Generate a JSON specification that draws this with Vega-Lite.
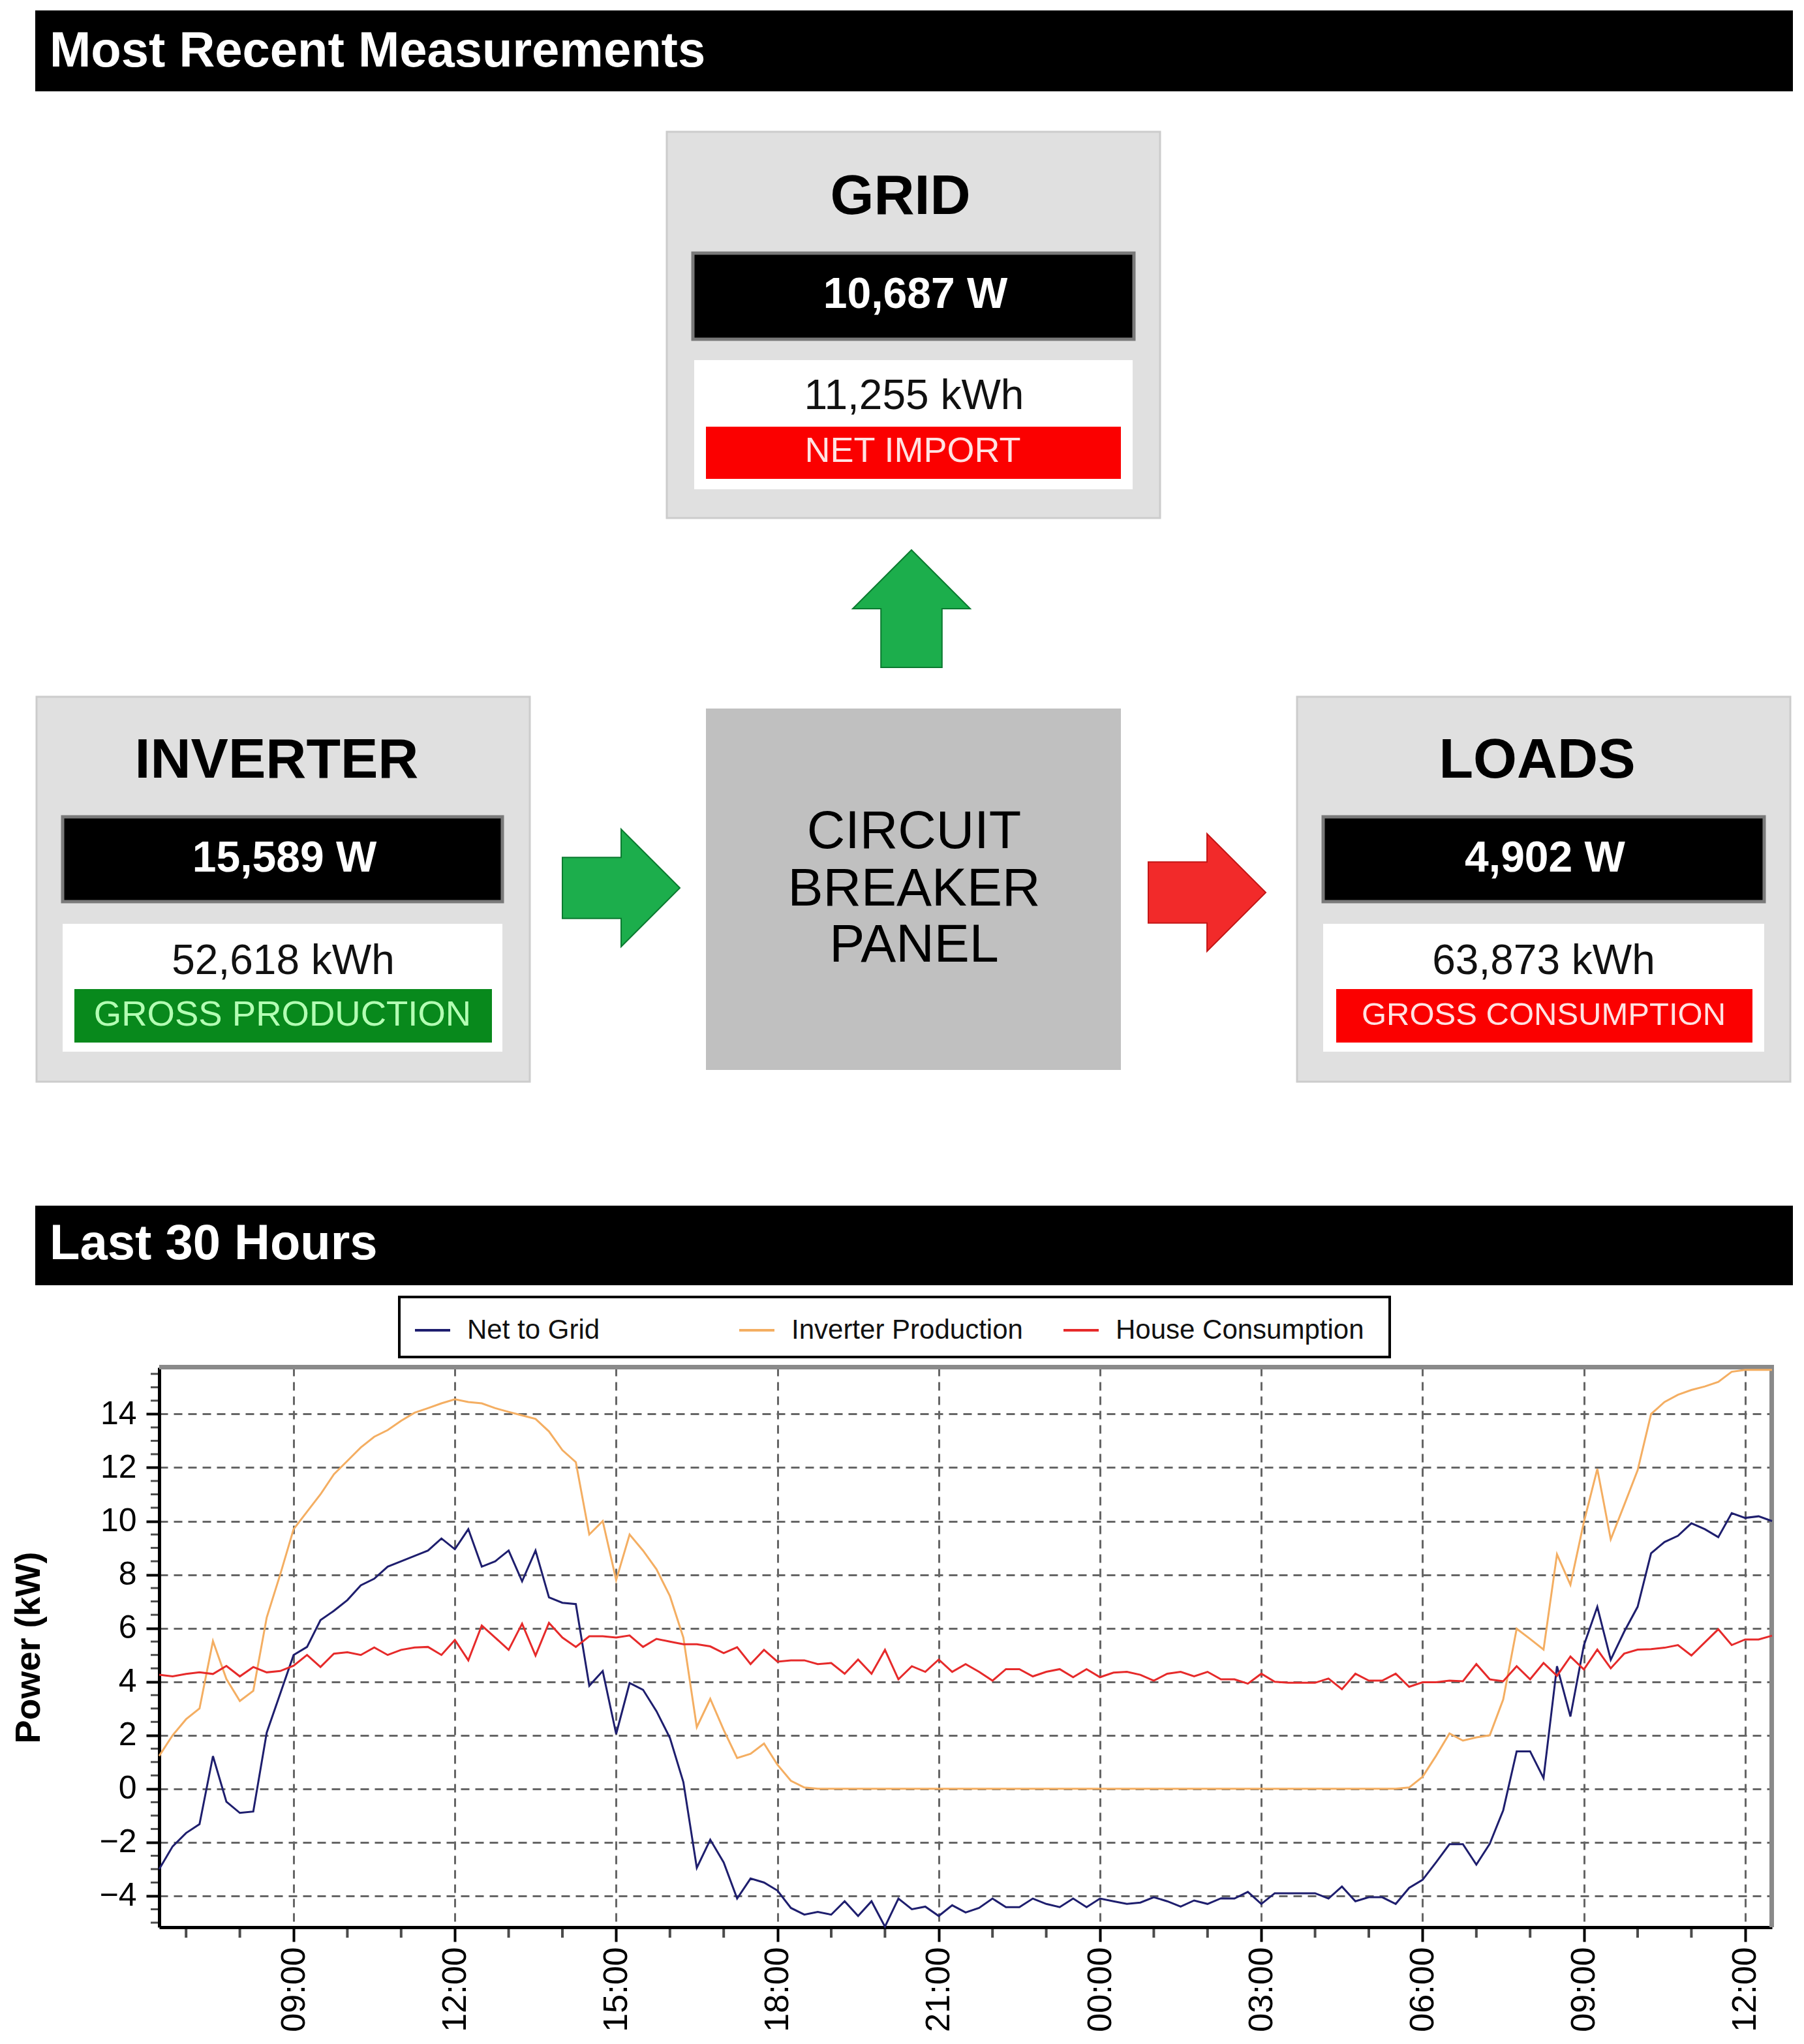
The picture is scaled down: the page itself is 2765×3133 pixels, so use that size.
{
  "$schema": "https://vega.github.io/schema/vega-lite/v6.json",
  "width": 2472,
  "height": 858,
  "padding": 0,
  "background": "white",
  "config": {"view": {"stroke": null}},
  "datasets": {
    "page": [{"x": 0, "x2": 2765, "y": 0, "y2": 3133}],
    "headerBars": [{"x": 54, "x2": 2748, "y": 16, "y2": 140}, {"x": 54, "x2": 2748, "y": 1848, "y2": 1970}],
    "headerText": [{"label": "Most Recent Measurements", "x": 76, "y": 102}, {"label": "Last 30 Hours", "x": 76, "y": 1930}],
    "panels": [
      {"name": "GRID", "x": 1022, "x2": 1778, "y": 202, "y2": 794},
      {"name": "INVERTER", "x": 56, "x2": 812, "y": 1068, "y2": 1658},
      {"name": "LOADS", "x": 1988, "x2": 2744, "y": 1068, "y2": 1658}
    ],
    "panelTitles": [
      {"label": "GRID", "x": 1380, "y": 302},
      {"label": "INVERTER", "x": 424, "y": 1166},
      {"label": "LOADS", "x": 2356, "y": 1166}
    ],
    "powerBars": [
      {"name": "GRID", "x": 1062, "x2": 1738, "y": 388, "y2": 520},
      {"name": "INVERTER", "x": 96, "x2": 770, "y": 1252, "y2": 1382},
      {"name": "LOADS", "x": 2028, "x2": 2704, "y": 1252, "y2": 1382}
    ],
    "powerText": [
      {"label": "10,687 W", "x": 1403, "y": 452},
      {"label": "15,589 W", "x": 436, "y": 1316},
      {"label": "4,902 W", "x": 2368, "y": 1316}
    ],
    "energyAreas": [
      {"name": "GRID", "x": 1064, "x2": 1736, "y": 552, "y2": 750},
      {"name": "INVERTER", "x": 96, "x2": 770, "y": 1416, "y2": 1612},
      {"name": "LOADS", "x": 2028, "x2": 2704, "y": 1416, "y2": 1612}
    ],
    "energyText": [
      {"label": "11,255 kWh", "x": 1401, "y": 608},
      {"label": "52,618 kWh", "x": 434, "y": 1474},
      {"label": "63,873 kWh", "x": 2366, "y": 1474}
    ],
    "statusBars": [
      {"kind": "import", "x": 1082, "x2": 1718, "y": 654, "y2": 734},
      {"kind": "production", "x": 114, "x2": 754, "y": 1516, "y2": 1598},
      {"kind": "consumption", "x": 2048, "x2": 2686, "y": 1516, "y2": 1598}
    ],
    "statusText": [
      {"kind": "import", "label": "NET IMPORT", "x": 1399, "y": 692},
      {"kind": "production", "label": "GROSS PRODUCTION", "x": 433, "y": 1556},
      {"kind": "consumption", "label": "GROSS CONSUMPTION", "x": 2366, "y": 1556}
    ],
    "breaker": [{"x": 1082, "x2": 1718, "y": 1086, "y2": 1640}],
    "breakerText": [
      {"label": "CIRCUIT", "x": 1401, "y": 1276},
      {"label": "BREAKER", "x": 1401, "y": 1364},
      {"label": "PANEL", "x": 1401, "y": 1450}
    ],
    "arrows": [
      {"flow": "grid", "x": 1397, "y": 933},
      {"flow": "inverter", "x": 952, "y": 1361},
      {"flow": "loads", "x": 1850, "y": 1368}
    ],
    "legendFrame": [{"x": 612, "x2": 2130, "y": 1988, "y2": 2080}],
    "plotBorder": [
      {"x": 244, "x2": 2719, "y": 2092, "y2": 2099},
      {"x": 2712, "x2": 2719, "y": 2092, "y2": 2954}
    ],
    "minorHours": [{"hour": 7}, {"hour": 8}, {"hour": 10}, {"hour": 11}, {"hour": 13}, {"hour": 14}, {"hour": 16}, {"hour": 17}, {"hour": 19}, {"hour": 20}, {"hour": 22}, {"hour": 23}, {"hour": 25}, {"hour": 26}, {"hour": 28}, {"hour": 29}, {"hour": 31}, {"hour": 32}, {"hour": 34}, {"hour": 35}],
    "minorKW": [{"kW": -5}, {"kW": -4.5}, {"kW": -3.5}, {"kW": -3}, {"kW": -2.5}, {"kW": -1.5}, {"kW": -1}, {"kW": -0.5}, {"kW": 0.5}, {"kW": 1}, {"kW": 1.5}, {"kW": 2.5}, {"kW": 3}, {"kW": 3.5}, {"kW": 4.5}, {"kW": 5}, {"kW": 5.5}, {"kW": 6.5}, {"kW": 7}, {"kW": 7.5}, {"kW": 8.5}, {"kW": 9}, {"kW": 9.5}, {"kW": 10.5}, {"kW": 11}, {"kW": 11.5}, {"kW": 12.5}, {"kW": 13}, {"kW": 13.5}, {"kW": 14.5}, {"kW": 15}, {"kW": 15.5}],
    "power": [
      {"hour": 6.5, "Net to Grid": -3.0, "Inverter Production": 1.23, "House Consumption": 4.26},
      {"hour": 6.75, "Net to Grid": -2.15, "Inverter Production": 2.0, "House Consumption": 4.2},
      {"hour": 7.0, "Net to Grid": -1.65, "Inverter Production": 2.6, "House Consumption": 4.29},
      {"hour": 7.25, "Net to Grid": -1.32, "Inverter Production": 3.0, "House Consumption": 4.35},
      {"hour": 7.5, "Net to Grid": 1.22, "Inverter Production": 5.52, "House Consumption": 4.29},
      {"hour": 7.75, "Net to Grid": -0.48, "Inverter Production": 4.1, "House Consumption": 4.59},
      {"hour": 8.0, "Net to Grid": -0.9, "Inverter Production": 3.28, "House Consumption": 4.2},
      {"hour": 8.25, "Net to Grid": -0.85, "Inverter Production": 3.66, "House Consumption": 4.55},
      {"hour": 8.5, "Net to Grid": 2.1, "Inverter Production": 6.4, "House Consumption": 4.35},
      {"hour": 8.75, "Net to Grid": 3.55, "Inverter Production": 8.0, "House Consumption": 4.4},
      {"hour": 9.0, "Net to Grid": 5.0, "Inverter Production": 9.7, "House Consumption": 4.6},
      {"hour": 9.25, "Net to Grid": 5.3, "Inverter Production": 10.35, "House Consumption": 5.0},
      {"hour": 9.5, "Net to Grid": 6.3, "Inverter Production": 11.0, "House Consumption": 4.55},
      {"hour": 9.75, "Net to Grid": 6.65, "Inverter Production": 11.75, "House Consumption": 5.05},
      {"hour": 10.0, "Net to Grid": 7.05, "Inverter Production": 12.25, "House Consumption": 5.1},
      {"hour": 10.25, "Net to Grid": 7.6, "Inverter Production": 12.75, "House Consumption": 5.0},
      {"hour": 10.5, "Net to Grid": 7.85, "Inverter Production": 13.15, "House Consumption": 5.28},
      {"hour": 10.75, "Net to Grid": 8.3, "Inverter Production": 13.4, "House Consumption": 5.0},
      {"hour": 11.0, "Net to Grid": 8.5, "Inverter Production": 13.75, "House Consumption": 5.19},
      {"hour": 11.25, "Net to Grid": 8.7, "Inverter Production": 14.05, "House Consumption": 5.28},
      {"hour": 11.5, "Net to Grid": 8.9, "Inverter Production": 14.22, "House Consumption": 5.3},
      {"hour": 11.75, "Net to Grid": 9.35, "Inverter Production": 14.4, "House Consumption": 5.0},
      {"hour": 12.0, "Net to Grid": 8.95, "Inverter Production": 14.55, "House Consumption": 5.56},
      {"hour": 12.25, "Net to Grid": 9.7, "Inverter Production": 14.45, "House Consumption": 4.8},
      {"hour": 12.5, "Net to Grid": 8.3, "Inverter Production": 14.4, "House Consumption": 6.1},
      {"hour": 12.75, "Net to Grid": 8.5, "Inverter Production": 14.22, "House Consumption": 5.65},
      {"hour": 13.0, "Net to Grid": 8.9, "Inverter Production": 14.08, "House Consumption": 5.19},
      {"hour": 13.25, "Net to Grid": 7.75, "Inverter Production": 13.95, "House Consumption": 6.17},
      {"hour": 13.5, "Net to Grid": 8.9, "Inverter Production": 13.82, "House Consumption": 4.98},
      {"hour": 13.75, "Net to Grid": 7.15, "Inverter Production": 13.35, "House Consumption": 6.2},
      {"hour": 14.0, "Net to Grid": 6.95, "Inverter Production": 12.65, "House Consumption": 5.65},
      {"hour": 14.25, "Net to Grid": 6.9, "Inverter Production": 12.2, "House Consumption": 5.3},
      {"hour": 14.5, "Net to Grid": 3.85, "Inverter Production": 9.5, "House Consumption": 5.7},
      {"hour": 14.75, "Net to Grid": 4.4, "Inverter Production": 10.0, "House Consumption": 5.7},
      {"hour": 15.0, "Net to Grid": 2.05, "Inverter Production": 7.8, "House Consumption": 5.65},
      {"hour": 15.25, "Net to Grid": 3.95, "Inverter Production": 9.5, "House Consumption": 5.73},
      {"hour": 15.5, "Net to Grid": 3.7, "Inverter Production": 8.9, "House Consumption": 5.3},
      {"hour": 15.75, "Net to Grid": 2.9, "Inverter Production": 8.2, "House Consumption": 5.6},
      {"hour": 16.0, "Net to Grid": 1.9, "Inverter Production": 7.2, "House Consumption": 5.5},
      {"hour": 16.25, "Net to Grid": 0.25, "Inverter Production": 5.65, "House Consumption": 5.4},
      {"hour": 16.5, "Net to Grid": -2.95, "Inverter Production": 2.3, "House Consumption": 5.4},
      {"hour": 16.75, "Net to Grid": -1.9, "Inverter Production": 3.36, "House Consumption": 5.32},
      {"hour": 17.0, "Net to Grid": -2.75, "Inverter Production": 2.2, "House Consumption": 5.07},
      {"hour": 17.25, "Net to Grid": -4.1, "Inverter Production": 1.15, "House Consumption": 5.29},
      {"hour": 17.5, "Net to Grid": -3.35, "Inverter Production": 1.31, "House Consumption": 4.66},
      {"hour": 17.75, "Net to Grid": -3.5, "Inverter Production": 1.69, "House Consumption": 5.19},
      {"hour": 18.0, "Net to Grid": -3.8, "Inverter Production": 0.9, "House Consumption": 4.75},
      {"hour": 18.25, "Net to Grid": -4.45, "Inverter Production": 0.3, "House Consumption": 4.8},
      {"hour": 18.5, "Net to Grid": -4.7, "Inverter Production": 0.05, "House Consumption": 4.8},
      {"hour": 18.75, "Net to Grid": -4.6, "Inverter Production": 0, "House Consumption": 4.66},
      {"hour": 19.0, "Net to Grid": -4.7, "Inverter Production": 0, "House Consumption": 4.7},
      {"hour": 19.25, "Net to Grid": -4.2, "Inverter Production": 0, "House Consumption": 4.3},
      {"hour": 19.5, "Net to Grid": -4.75, "Inverter Production": 0, "House Consumption": 4.83},
      {"hour": 19.75, "Net to Grid": -4.2, "Inverter Production": 0, "House Consumption": 4.3},
      {"hour": 20.0, "Net to Grid": -5.15, "Inverter Production": 0, "House Consumption": 5.19},
      {"hour": 20.25, "Net to Grid": -4.1, "Inverter Production": 0, "House Consumption": 4.09},
      {"hour": 20.5, "Net to Grid": -4.5, "Inverter Production": 0, "House Consumption": 4.58},
      {"hour": 20.75, "Net to Grid": -4.4, "Inverter Production": 0, "House Consumption": 4.37},
      {"hour": 21.0, "Net to Grid": -4.75, "Inverter Production": 0, "House Consumption": 4.83},
      {"hour": 21.25, "Net to Grid": -4.35, "Inverter Production": 0, "House Consumption": 4.37},
      {"hour": 21.5, "Net to Grid": -4.62, "Inverter Production": 0, "House Consumption": 4.66},
      {"hour": 21.75, "Net to Grid": -4.45, "Inverter Production": 0, "House Consumption": 4.37},
      {"hour": 22.0, "Net to Grid": -4.1, "Inverter Production": 0, "House Consumption": 4.04},
      {"hour": 22.25, "Net to Grid": -4.42, "Inverter Production": 0, "House Consumption": 4.47},
      {"hour": 22.5, "Net to Grid": -4.42, "Inverter Production": 0, "House Consumption": 4.47},
      {"hour": 22.75, "Net to Grid": -4.1, "Inverter Production": 0, "House Consumption": 4.2},
      {"hour": 23.0, "Net to Grid": -4.3, "Inverter Production": 0, "House Consumption": 4.37},
      {"hour": 23.25, "Net to Grid": -4.42, "Inverter Production": 0, "House Consumption": 4.47},
      {"hour": 23.5, "Net to Grid": -4.1, "Inverter Production": 0, "House Consumption": 4.17},
      {"hour": 23.75, "Net to Grid": -4.42, "Inverter Production": 0, "House Consumption": 4.47},
      {"hour": 24.0, "Net to Grid": -4.1, "Inverter Production": 0, "House Consumption": 4.17},
      {"hour": 24.25, "Net to Grid": -4.2, "Inverter Production": 0, "House Consumption": 4.34},
      {"hour": 24.5, "Net to Grid": -4.3, "Inverter Production": 0, "House Consumption": 4.37},
      {"hour": 24.75, "Net to Grid": -4.25, "Inverter Production": 0, "House Consumption": 4.26},
      {"hour": 25.0, "Net to Grid": -4.05, "Inverter Production": 0, "House Consumption": 4.04},
      {"hour": 25.25, "Net to Grid": -4.2, "Inverter Production": 0, "House Consumption": 4.3},
      {"hour": 25.5, "Net to Grid": -4.4, "Inverter Production": 0, "House Consumption": 4.37},
      {"hour": 25.75, "Net to Grid": -4.17, "Inverter Production": 0, "House Consumption": 4.2},
      {"hour": 26.0, "Net to Grid": -4.3, "Inverter Production": 0, "House Consumption": 4.37},
      {"hour": 26.25, "Net to Grid": -4.09, "Inverter Production": 0, "House Consumption": 4.09},
      {"hour": 26.5, "Net to Grid": -4.1, "Inverter Production": 0, "House Consumption": 4.09},
      {"hour": 26.75, "Net to Grid": -3.85, "Inverter Production": 0, "House Consumption": 3.93},
      {"hour": 27.0, "Net to Grid": -4.3, "Inverter Production": 0, "House Consumption": 4.3},
      {"hour": 27.25, "Net to Grid": -3.9, "Inverter Production": 0, "House Consumption": 4.0},
      {"hour": 27.5, "Net to Grid": -3.9, "Inverter Production": 0, "House Consumption": 3.96},
      {"hour": 27.75, "Net to Grid": -3.9, "Inverter Production": 0, "House Consumption": 3.96},
      {"hour": 28.0, "Net to Grid": -3.9, "Inverter Production": 0, "House Consumption": 3.96},
      {"hour": 28.25, "Net to Grid": -4.1, "Inverter Production": 0, "House Consumption": 4.12},
      {"hour": 28.5, "Net to Grid": -3.65, "Inverter Production": 0, "House Consumption": 3.72},
      {"hour": 28.75, "Net to Grid": -4.2, "Inverter Production": 0, "House Consumption": 4.3},
      {"hour": 29.0, "Net to Grid": -4.05, "Inverter Production": 0, "House Consumption": 4.04},
      {"hour": 29.25, "Net to Grid": -4.05, "Inverter Production": 0, "House Consumption": 4.04},
      {"hour": 29.5, "Net to Grid": -4.3, "Inverter Production": 0, "House Consumption": 4.3},
      {"hour": 29.75, "Net to Grid": -3.7, "Inverter Production": 0.05, "House Consumption": 3.81},
      {"hour": 30.0, "Net to Grid": -3.4, "Inverter Production": 0.45, "House Consumption": 3.98},
      {"hour": 30.25, "Net to Grid": -2.75, "Inverter Production": 1.23, "House Consumption": 3.98},
      {"hour": 30.5, "Net to Grid": -2.07, "Inverter Production": 2.07, "House Consumption": 4.04},
      {"hour": 30.75, "Net to Grid": -2.07, "Inverter Production": 1.8, "House Consumption": 4.02},
      {"hour": 31.0, "Net to Grid": -2.83, "Inverter Production": 1.92, "House Consumption": 4.66},
      {"hour": 31.25, "Net to Grid": -2.05, "Inverter Production": 2.0, "House Consumption": 4.09},
      {"hour": 31.5, "Net to Grid": -0.8, "Inverter Production": 3.34, "House Consumption": 4.02},
      {"hour": 31.75, "Net to Grid": 1.4, "Inverter Production": 5.98, "House Consumption": 4.58},
      {"hour": 32.0, "Net to Grid": 1.4, "Inverter Production": 5.6, "House Consumption": 4.09},
      {"hour": 32.25, "Net to Grid": 0.4, "Inverter Production": 5.2, "House Consumption": 4.7},
      {"hour": 32.5, "Net to Grid": 4.58, "Inverter Production": 8.76, "House Consumption": 4.22},
      {"hour": 32.75, "Net to Grid": 2.7, "Inverter Production": 7.62, "House Consumption": 4.94},
      {"hour": 33.0, "Net to Grid": 5.36, "Inverter Production": 9.96, "House Consumption": 4.46},
      {"hour": 33.25, "Net to Grid": 6.8, "Inverter Production": 11.95, "House Consumption": 5.2},
      {"hour": 33.5, "Net to Grid": 4.82, "Inverter Production": 9.32, "House Consumption": 4.5},
      {"hour": 33.75, "Net to Grid": 5.87, "Inverter Production": 10.6, "House Consumption": 5.05},
      {"hour": 34.0, "Net to Grid": 6.8, "Inverter Production": 11.9, "House Consumption": 5.2},
      {"hour": 34.25, "Net to Grid": 8.8, "Inverter Production": 14.0, "House Consumption": 5.22},
      {"hour": 34.5, "Net to Grid": 9.22, "Inverter Production": 14.45, "House Consumption": 5.27},
      {"hour": 34.75, "Net to Grid": 9.45, "Inverter Production": 14.72, "House Consumption": 5.37},
      {"hour": 35.0, "Net to Grid": 9.92, "Inverter Production": 14.9, "House Consumption": 4.98},
      {"hour": 35.25, "Net to Grid": 9.7, "Inverter Production": 15.03, "House Consumption": 5.47},
      {"hour": 35.5, "Net to Grid": 9.4, "Inverter Production": 15.2, "House Consumption": 5.96},
      {"hour": 35.75, "Net to Grid": 10.3, "Inverter Production": 15.58, "House Consumption": 5.37},
      {"hour": 36.0, "Net to Grid": 10.12, "Inverter Production": 15.65, "House Consumption": 5.58},
      {"hour": 36.25, "Net to Grid": 10.18, "Inverter Production": 15.65, "House Consumption": 5.58},
      {"hour": 36.5, "Net to Grid": 10.0, "Inverter Production": 15.65, "House Consumption": 5.72}
    ]
  },
  "layer": [
    {
      "encoding": {
        "x": {"field": "x", "type": "quantitative", "scale": {"domain": [244, 2716], "nice": false, "zero": false}, "axis": null},
        "y": {"field": "y", "type": "quantitative", "scale": {"domain": [2096, 2954], "nice": false, "zero": false, "reverse": true}, "axis": null}
      },
      "layer": [
        {"data": {"name": "page"}, "mark": {"type": "rect", "fill": "white", "fillOpacity": 0, "strokeOpacity": 0}, "encoding": {"x2": {"field": "x2"}, "y2": {"field": "y2"}}},
        {"data": {"name": "headerBars"}, "mark": {"type": "rect", "fill": "black"}, "encoding": {"x2": {"field": "x2"}, "y2": {"field": "y2"}}},
        {"data": {"name": "headerText"}, "mark": {"type": "text", "align": "left", "baseline": "alphabetic", "font": "Liberation Sans", "fontWeight": "bold", "fontSize": 76, "fill": "white"}, "encoding": {"text": {"field": "label", "type": "nominal"}}},
        {"data": {"name": "panels"}, "mark": {"type": "rect", "fill": "#8c8c8c", "xOffset": 5, "yOffset": 5}, "encoding": {"x2": {"field": "x2"}, "y2": {"field": "y2"}}},
        {"data": {"name": "panels"}, "mark": {"type": "rect", "fill": "#e0e0e0", "stroke": "#cccccc", "strokeWidth": 3}, "encoding": {"x2": {"field": "x2"}, "y2": {"field": "y2"}}},
        {"data": {"name": "panelTitles"}, "mark": {"type": "text", "align": "center", "baseline": "middle", "font": "Liberation Sans", "fontWeight": "bold", "fontSize": 86, "fill": "black"}, "encoding": {"text": {"field": "label", "type": "nominal"}}},
        {"data": {"name": "powerBars"}, "mark": {"type": "rect", "fill": "black", "stroke": "#7a7a7a", "strokeWidth": 5}, "encoding": {"x2": {"field": "x2"}, "y2": {"field": "y2"}}},
        {"data": {"name": "powerText"}, "mark": {"type": "text", "align": "center", "baseline": "middle", "font": "Liberation Sans", "fontWeight": "bold", "fontSize": 66, "fill": "white"}, "encoding": {"text": {"field": "label", "type": "nominal"}}},
        {"data": {"name": "energyAreas"}, "mark": {"type": "rect", "fill": "white"}, "encoding": {"x2": {"field": "x2"}, "y2": {"field": "y2"}}},
        {"data": {"name": "energyText"}, "mark": {"type": "text", "align": "center", "baseline": "middle", "font": "Liberation Sans", "fontSize": 64, "fill": "#111111"}, "encoding": {"text": {"field": "label", "type": "nominal"}}},
        {"data": {"name": "statusBars"}, "transform": [{"filter": "datum.kind != 'production'"}], "mark": {"type": "rect", "fill": "#fb0000"}, "encoding": {"x2": {"field": "x2"}, "y2": {"field": "y2"}}},
        {"data": {"name": "statusBars"}, "transform": [{"filter": "datum.kind == 'production'"}], "mark": {"type": "rect", "fill": "#08891c"}, "encoding": {"x2": {"field": "x2"}, "y2": {"field": "y2"}}},
        {"data": {"name": "statusText"}, "transform": [{"filter": "datum.kind == 'import'"}], "mark": {"type": "text", "align": "center", "baseline": "middle", "font": "Liberation Sans", "fontSize": 54, "fill": "#ffe2e2"}, "encoding": {"text": {"field": "label", "type": "nominal"}}},
        {"data": {"name": "statusText"}, "transform": [{"filter": "datum.kind == 'consumption'"}], "mark": {"type": "text", "align": "center", "baseline": "middle", "font": "Liberation Sans", "fontSize": 49, "fill": "#ffe2e2"}, "encoding": {"text": {"field": "label", "type": "nominal"}}},
        {"data": {"name": "statusText"}, "transform": [{"filter": "datum.kind == 'production'"}], "mark": {"type": "text", "align": "center", "baseline": "middle", "font": "Liberation Sans", "fontSize": 54.5, "fill": "#b4ffb4"}, "encoding": {"text": {"field": "label", "type": "nominal"}}},
        {"data": {"name": "breaker"}, "mark": {"type": "rect", "fill": "#c0c0c0"}, "encoding": {"x2": {"field": "x2"}, "y2": {"field": "y2"}}},
        {"data": {"name": "breakerText"}, "mark": {"type": "text", "align": "center", "baseline": "middle", "font": "Liberation Sans", "fontSize": 81, "fill": "black"}, "encoding": {"text": {"field": "label", "type": "nominal"}}},
        {"data": {"name": "arrows"}, "transform": [{"filter": "datum.flow == 'inverter'"}], "mark": {"type": "point", "shape": "M-1,-0.52L0,-0.52L0,-1L1,0L0,1L0,0.52L-1,0.52Z", "size": 32400, "filled": true, "fill": "#1cae4c", "fillOpacity": 1, "stroke": "#0b7a30", "strokeWidth": 2, "opacity": 1}},
        {"data": {"name": "arrows"}, "transform": [{"filter": "datum.flow == 'grid'"}], "mark": {"type": "point", "shape": "M-0.52,1L-0.52,0L-1,0L0,-1L1,0L0.52,0L0.52,1Z", "size": 32400, "filled": true, "fill": "#1cae4c", "fillOpacity": 1, "stroke": "#0b7a30", "strokeWidth": 2, "opacity": 1}},
        {"data": {"name": "arrows"}, "transform": [{"filter": "datum.flow == 'loads'"}], "mark": {"type": "point", "shape": "M-1,-0.52L0,-0.52L0,-1L1,0L0,1L0,0.52L-1,0.52Z", "size": 32400, "filled": true, "fill": "#f22a2a", "fillOpacity": 1, "stroke": "#c41616", "strokeWidth": 2, "opacity": 1}},
        {"data": {"name": "legendFrame"}, "mark": {"type": "rect", "fill": "#d4d4d4", "xOffset": 9, "yOffset": 9}, "encoding": {"x2": {"field": "x2"}, "y2": {"field": "y2"}}},
        {"data": {"name": "legendFrame"}, "mark": {"type": "rect", "fill": "white", "stroke": "black", "strokeWidth": 4}, "encoding": {"x2": {"field": "x2"}, "y2": {"field": "y2"}}},
        {"data": {"name": "plotBorder"}, "mark": {"type": "rect", "fill": "#8a8a8a"}, "encoding": {"x2": {"field": "x2"}, "y2": {"field": "y2"}}}
      ]
    },
    {
      "layer": [
        {
          "data": {"name": "power"},
          "transform": [{"fold": ["Net to Grid", "Inverter Production", "House Consumption"], "as": ["series", "kW"]}],
          "mark": {"type": "line", "strokeWidth": 3},
          "encoding": {
            "x": {
              "field": "hour", "type": "quantitative",
              "scale": {"domain": [6.5, 36.5], "nice": false, "zero": false},
              "axis": {"values": [9, 12, 15, 18, 21, 24, 27, 30, 33, 36], "labelExpr": "(datum.value % 24 < 10 ? '0' : '') + (datum.value % 24) + ':00'", "labelAngle": 270, "labelFont": "Liberation Sans", "labelFontSize": 52, "labelColor": "#000000", "labelPadding": 8, "labelFlush": false, "tickSize": 22, "tickWidth": 4, "tickColor": "#000000", "domainColor": "#000000", "domainWidth": 5, "grid": true, "gridColor": "#666666", "gridDash": [13, 9], "gridWidth": 3, "title": null}
            },
            "y": {
              "field": "kW", "type": "quantitative",
              "scale": {"domain": [-5.17, 15.74], "nice": false, "zero": false},
              "axis": {"values": [-4, -2, 0, 2, 4, 6, 8, 10, 12, 14], "title": "Power (kW)", "titleFont": "Liberation Sans", "titleFontSize": 54, "titleFontWeight": "bold", "titleColor": "#000000", "titlePadding": 80, "labelFont": "Liberation Sans", "labelFontSize": 50, "labelColor": "#000000", "labelPadding": 15, "tickSize": 20, "tickWidth": 4, "tickColor": "#000000", "domainColor": "#000000", "domainWidth": 5, "grid": true, "gridColor": "#666666", "gridDash": [13, 9], "gridWidth": 3}
            },
            "color": {
              "field": "series", "type": "nominal",
              "scale": {"domain": ["Net to Grid", "Inverter Production", "House Consumption"], "range": ["#1e1e6e", "#f4ae62", "#e62a2a"]},
              "legend": {"orient": "none", "legendX": 370, "legendY": -106, "direction": "horizontal", "title": null, "padding": 20, "labelFont": "Liberation Sans", "labelFontSize": 42, "labelColor": "#111111", "labelLimit": 1000, "labelOffset": 24, "symbolType": "stroke", "symbolSize": 2916, "symbolStrokeWidth": 4, "columnPadding": 28, "gridAlign": "all"}
            }
          }
        },
        {
          "data": {"name": "minorHours"},
          "mark": {"type": "tick", "orient": "vertical", "size": 14, "thickness": 4, "color": "#000000", "yOffset": 9},
          "encoding": {
            "x": {"field": "hour", "type": "quantitative"},
            "y": {"datum": -5.17}
          }
        },
        {
          "data": {"name": "minorKW"},
          "mark": {"type": "tick", "orient": "horizontal", "size": 11, "thickness": 3, "color": "#000000", "xOffset": -7.5},
          "encoding": {
            "x": {"datum": 6.5},
            "y": {"field": "kW", "type": "quantitative"}
          }
        }
      ]
    }
  ],
  "resolve": {"scale": {"x": "independent", "y": "independent"}}
}
